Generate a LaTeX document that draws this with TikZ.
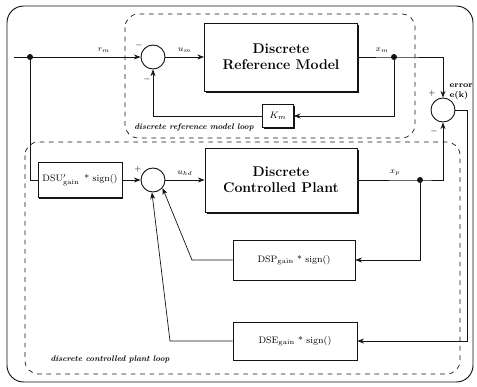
\documentclass[tikz,border=0pt]{standalone}
\usepackage{amsmath}
\usepackage{tikz}
\usetikzlibrary{positioning,arrows.meta,shadows,calc}
\definecolor{ink}{HTML}{141414}
\tikzset{
  >={Stealth[length=2mm]},
  blockbox/.style={draw=ink, thick, fill=white, align=center, font=\large\bfseries,
                   drop shadow={shadow xshift=1.6pt, shadow yshift=-1.6pt, fill=ink, opacity=1}},
  gainbox/.style={draw=ink, semithick, fill=white, font=\footnotesize, inner sep=1pt,
                  drop shadow={shadow xshift=1.2pt, shadow yshift=-1.2pt, fill=ink, opacity=1}},
  sumj/.style={draw=ink, thick, circle, inner sep=0pt, minimum size=7.2mm},
  jdot/.style={circle, fill=ink, inner sep=0pt, minimum size=1.8mm},
  sig/.style={font=\scriptsize},
  sgn/.style={font=\scriptsize},
  loopbox/.style={draw=ink, semithick, dash pattern=on 4pt off 4pt, rounded corners=4mm},
  looptag/.style={font=\scriptsize\bfseries\itshape},
  l/.style={->, semithick, draw=ink},
  w/.style={semithick, draw=ink},
}

\begin{document}
\begin{tikzpicture}[x=0.3mm, y=-0.3mm]
  \useasboundingbox (0,0) rectangle (477,386);
  % frame and loops
  \draw[ink, thick, rounded corners=5mm] (7,6) rectangle (473,382);
  \draw[loopbox] (125,14) rectangle (415,138);
  \draw[loopbox] (25,142) rectangle (460,374);
  \node[looptag] (reftag) at (194,127) {discrete reference model loop};
  \node[looptag] (plttag) at (110,359) {discrete controlled plant loop};
  % blocks
  \node[blockbox, minimum width=45.9mm, minimum height=20.4mm] (ref) at (281,57) {Discrete\\Reference Model};
  \node[blockbox, minimum width=45.6mm, minimum height=19.2mm] (plant) at (281,180) {Discrete\\Controlled Plant};
  \node[gainbox, minimum width=9.3mm, minimum height=6.9mm] (Km) at (278,116) {$K_m$};
  \node[gainbox, minimum width=25.2mm, minimum height=10.5mm] (DSU) at (80,180) {DSU$'_{\text{gain}}$ \,* sign()};
  \node[gainbox, minimum width=36.6mm, minimum height=12mm] (DSP) at (294,260) {DSP$_{\text{gain}}$ * sign()};
  \node[gainbox, minimum width=37.2mm, minimum height=11.4mm] (DSE) at (295,341) {DSE$_{\text{gain}}$ * sign()};
  % junctions
  \node[sumj] (s1) at (153,57) {};
  \node[sumj] (s2) at (153,180) {};
  \node[sumj] (s3) at (443,110) {};
  \node[sgn] (s1a) at (139,45) {$-$};
  \node[sgn] (s1b) at (147,79) {$-$};
  \node[sgn] (s2a) at (138,169) {$+$};
  \node[sgn] (s3a) at (432,93) {$+$};
  \node[sgn] (s3b) at (434,131) {$-$};
  \node[jdot] (d1) at (30,57) {};
  \node[jdot] (d2) at (394,57) {};
  \node[jdot] (d3) at (420,180) {};
  \node[font=\scriptsize\bfseries, align=left, anchor=north east] (err) at (477,80) {error\\e(k)};
  \coordinate (in) at (14,57);
  \coordinate (ek) at (467,110);
  \coordinate (p1) at (192,260);
  \coordinate (p2) at (170,341);
  % reference model loop
  \draw[l] (in) -- node[sig,above,pos=0.71]{$r_m$} (s1);
  \draw[l] (s1) -- node[sig,above]{$u_m$} (ref);
  \draw[l] (ref) -- node[sig,above,pos=0.67]{$x_m$} (d2.center) -| (s3);
  \draw[l] (d2) |- (Km);
  \draw[l] (Km) -| (s1);
  % controlled plant loop
  \draw[w] (d1) |- (DSU);
  \draw[l] (DSU) -- (s2);
  \draw[l] (s2) -- node[sig,above]{$u_{hd}$} (plant);
  \draw[l] (plant) -- node[sig,above,pos=0.6]{$x_p$} (d3.center) -| (s3);
  \draw[l] (d3) |- (DSP);
  \draw[l] (s3) -- (ek) |- (DSE);
  \draw[l] (DSP) -- (p1) -- (s2.-40);
  \draw[l] (DSE) -- (p2) -- (s2.-95);
\end{tikzpicture}
\end{document}
